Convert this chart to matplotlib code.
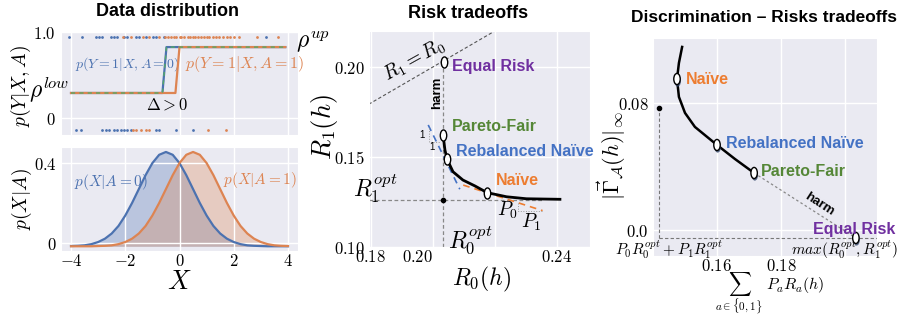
import numpy as np
import matplotlib
matplotlib.use('Agg')
import matplotlib.pyplot as plt
from matplotlib.path import Path
import matplotlib.patheffects as pe

plt.rcParams['mathtext.fontset'] = 'cm'
plt.rcParams['font.family'] = ['DejaVu Sans']
plt.rcParams['axes.facecolor'] = '#EAEAF2'
plt.rcParams['axes.edgecolor'] = 'white'
plt.rcParams['grid.color'] = 'white'
plt.rcParams['axes.grid'] = True
plt.rcParams['grid.linewidth'] = 1.0

# ---------------- data ----------------
# panel 1 top: labels observed at y=1 (top row) and y=0 (bottom row)
top_blue_x = [-4.08, -3.58, -3.09, -2.97, -2.84, -2.53, -2.41, -2.29, -2.04, -1.92,
              -1.61, -1.48, -1.24, -0.99, -0.87, -0.56, 3.2]
top_orange_x = [-2.10, -1.79, -1.36, -1.11, -0.74, -0.52, -0.41, -0.33, -0.20, -0.12,
                0.00, 0.07, 0.18, 0.30, 0.38, 0.50, 0.58, 0.69, 0.81, 0.90, 1.02,
                1.10, 1.22, 1.35, 1.44, 1.60, 1.74, 1.85, 2.02, 2.20, 2.84, 3.64]
bot_blue_x = [-3.83, -3.65, -2.84, -2.72, -2.60, -2.41, -2.29, -2.16, -2.04, -1.92,
              -1.79, -0.87, -0.74, -0.13, 0.49]
bot_orange_x = [-1.73, -1.61, -1.42, -1.24, -1.11, 1.05, 1.73]
rho_low = 0.398
rho_up = 0.892
step0_x = [-4.0, -0.63, -0.48, 3.9]
step1_x = [-4.0, -0.15, 0.0, 3.9]
step_y = [rho_low, rho_low, rho_up, rho_up]

# panel 1 bottom: densities p(X|A)
dens_x = [-4.0, -3.75, -3.5, -3.25, -3.0, -2.75, -2.5, -2.25, -2.0, -1.75, -1.5, -1.25,
          -1.0, -0.75, -0.5, -0.25, 0.0, 0.25, 0.5, 0.75, 1.0, 1.25, 1.5, 1.75, 2.0,
          2.25, 2.5, 2.75, 3.0, 3.25, 3.5, 3.75, 4.0]
dens_a0 = [0.001, 0.002, 0.004, 0.009, 0.018, 0.032, 0.054, 0.086, 0.130, 0.183,
           0.242, 0.301, 0.352, 0.387, 0.399, 0.387, 0.352, 0.301, 0.242, 0.183,
           0.130, 0.086, 0.054, 0.032, 0.018, 0.009, 0.004, 0.002, 0.001, 0.000,
           0.000, 0.000, 0.000]
dens_a1 = [0.000, 0.000, 0.000, 0.000, 0.001, 0.002, 0.004, 0.009, 0.018, 0.032,
           0.054, 0.086, 0.130, 0.183, 0.242, 0.301, 0.352, 0.387, 0.399, 0.387,
           0.352, 0.301, 0.242, 0.183, 0.130, 0.086, 0.054, 0.032, 0.018, 0.009,
           0.004, 0.002, 0.001]

# panel 2: risk frontier (R0, R1)
front_r0 = [0.2033, 0.2039, 0.2046, 0.2065, 0.2097, 0.2136, 0.2175, 0.2238, 0.2302, 0.2410]
front_r1 = [0.1622, 0.1539, 0.1487, 0.1418, 0.1372, 0.1339, 0.1302, 0.1279, 0.1268, 0.1265]
r0_opt = 0.2032
r1_opt = 0.1262
pts2_names = ['Equal Risk', 'Pareto-Fair', 'Rebalanced Naïve', 'Naïve']
pts2_r0 = [0.2035, 0.2033, 0.2046, 0.2175]
pts2_r1 = [0.2028, 0.1622, 0.1487, 0.1302]
tan_blue_r0 = [0.1985, 0.2087]
tan_blue_r1 = [0.1678, 0.1321]
tan_orange_r0 = [0.2098, 0.2354]
tan_orange_r1 = [0.1344, 0.1202]

# panel 3: discrimination vs total risk
disc_risk = [0.1491, 0.1481, 0.1475, 0.1481, 0.1500, 0.1531, 0.1569, 0.1600, 0.1656, 0.1716]
disc_gap = [0.1132, 0.1037, 0.0942, 0.0836, 0.0741, 0.0658, 0.0599, 0.0551, 0.0468, 0.0385]
pts3_names = ['Naïve', 'Rebalanced Naïve', 'Pareto-Fair', 'Equal Risk']
pts3_risk = [0.1475, 0.1600, 0.1716, 0.2034]
pts3_gap = [0.0942, 0.0551, 0.0385, 0.0]
opt_risk = 0.1419
opt_gap = 0.077

# ---------------- style ----------------
C_BLUE = '#4C72B0'
C_ORANGE = '#DD8452'
C_GREEN = '#55A868'
L_PURPLE = '#7030A0'
L_GREEN = '#558737'
L_BLUE = '#4472C4'
L_ORANGE = '#ED7D31'
label_colors = {'Equal Risk': L_PURPLE, 'Pareto-Fair': L_GREEN,
                'Rebalanced Naïve': L_BLUE, 'Naïve': L_ORANGE}
SANS = 'Liberation Sans'

circ = Path.unit_circle()
oval = Path(circ.vertices * np.array([0.58, 1.0]), circ.codes)

W, H = 902, 316
fig = plt.figure(figsize=(W / 100, H / 100), dpi=100)

def box(l, t, r, b):
    return [l / W, 1 - b / H, (r - l) / W, (b - t) / H]

def mt(v):
    return [f'${s}$' for s in v]

# titles
fig.text(168 / W, 1 - 12 / H, 'Data distribution', fontsize=13, fontweight='bold',
         family=SANS, ha='center', va='center')
fig.text(468 / W, 1 - 13 / H, 'Risk tradeoffs', fontsize=13, fontweight='bold',
         family=SANS, ha='center', va='center')
fig.text(764 / W, 1 - 18 / H, 'Discrimination – Risks tradeoffs', fontsize=12.5,
         fontweight='bold', family=SANS, ha='center', va='center')

# ---------- panel 1 top ----------
ax1 = fig.add_axes(box(61, 31, 298, 135))
ax1.set_xlim(-4.37, 4.37)
ax1.set_ylim(-0.054, 1.065)
ax1.scatter(top_blue_x, [1] * len(top_blue_x), s=4, color=C_BLUE, zorder=3, linewidths=0)
ax1.scatter(top_orange_x, [1] * len(top_orange_x), s=4, color=C_ORANGE, zorder=3, linewidths=0)
ax1.scatter(bot_blue_x, [0] * len(bot_blue_x), s=4, color=C_BLUE, zorder=3, linewidths=0)
ax1.scatter(bot_orange_x, [0] * len(bot_orange_x), s=4, color=C_ORANGE, zorder=3, linewidths=0)
ax1.plot(step0_x, step_y, color=C_BLUE, lw=1.6, zorder=4)
ax1.plot(step1_x, step_y, color=C_ORANGE, lw=1.6, zorder=5)
ax1.plot(step0_x, step_y, color=C_GREEN, lw=1.0, ls=(0, (3, 3)), zorder=6)
ax1.set_xticks([-4, -2, 0, 2, 4])
ax1.set_xticklabels([])
ax1.set_yticks([0.129, 1.054])
ax1.set_yticklabels(['$0$', '$1.0$'], fontsize=12)
ax1.tick_params(length=0, pad=4)
ax1.set_ylabel('$p(Y|X,A)$', fontsize=14)
ax1.yaxis.set_label_coords(-0.12, 0.47)
ax1.text(-3.85, 0.71, '$p(Y=1|X,A=0)$', color=C_BLUE, fontsize=10, va='center')
ax1.text(0.2, 0.71, '$p(Y=1|X,A=1)$', color=C_ORANGE, fontsize=11.5, va='center')
ax1.text(-0.44, 0.27, r'$\Delta>0$', fontsize=12, ha='center', va='center')
fig.text(69 / W, 1 - 90 / H, r'$\rho^{low}$', fontsize=17, ha='right', va='center')
fig.text(296 / W, 1 - 42 / H, r'$\rho^{up}$', fontsize=17, ha='left', va='center')

# ---------- panel 1 bottom ----------
ax2 = fig.add_axes(box(61, 147, 298, 251))
ax2.set_xlim(-4.37, 4.37)
ax2.set_ylim(-0.02, 0.42)
ax2.plot(dens_x, dens_a0, color=C_BLUE, lw=1.6)
ax2.fill_between(dens_x, dens_a0, color=C_BLUE, alpha=0.3, lw=0)
ax2.plot(dens_x, dens_a1, color=C_ORANGE, lw=1.6)
ax2.fill_between(dens_x, dens_a1, color=C_ORANGE, alpha=0.3, lw=0)
ax2.set_xticks([-4, -2, 0, 2, 4])
ax2.set_xticklabels(mt(['-4', '-2', '0', '2', '4']), fontsize=12)
ax2.set_yticks([0.013, 0.353])
ax2.set_yticklabels(['$0$', '$0.4$'], fontsize=12)
ax2.tick_params(axis='y', length=0, pad=3)
ax2.tick_params(axis='x', length=0, pad=1)
ax2.set_ylabel('$p(X|A)$', fontsize=14)
ax2.yaxis.set_label_coords(-0.112, 0.5)
ax2.set_xlabel('$X$', fontsize=19)
ax2.xaxis.set_label_coords(0.5, -0.17)
ax2.text(-3.9, 0.27, '$p(X|A=0)$', color=C_BLUE, fontsize=11, va='center')
ax2.text(1.6, 0.28, '$p(X|A=1)$', color=C_ORANGE, fontsize=11, va='center')

# ---------- panel 2 ----------
ax3 = fig.add_axes(box(369, 31, 590, 247))
ax3.set_xlim(0.1794, 0.2507)
ax3.set_ylim(0.10, 0.22)
ax3.plot([0.17, 0.23], [0.17, 0.23], color='#555555', lw=0.8, ls=(0, (3, 2)), zorder=2)
ax3.plot([r0_opt, r0_opt], [0.10, pts2_r1[0]], color='#888888', lw=0.9, ls=(0, (3, 2)), zorder=2)
ax3.plot([0.1794, 0.236], [r1_opt, r1_opt], color='#888888', lw=0.9, ls=(0, (3, 2)), zorder=2)
ax3.plot(tan_blue_r0, tan_blue_r1, color=L_BLUE, lw=1.2, ls=(0, (4, 3)), zorder=3)
ax3.plot(tan_orange_r0, tan_orange_r1, color=L_ORANGE, lw=1.2, ls=(0, (4, 3)), zorder=3)
ax3.plot(front_r0, front_r1, color='black', lw=2.0, zorder=4)
ax3.plot([r0_opt], [r1_opt], 'o', color='black', ms=3, zorder=5)
# small slope triangles
ax3.plot([0.1987, 0.1987, 0.2023], [0.1661, 0.1583, 0.1583], color='#999999', lw=0.7, ls=':', zorder=3)
ax3.text(0.1975, 0.1622, '1', fontsize=7, ha='right', va='center', family=SANS)
ax3.text(0.1998, 0.1556, '1', fontsize=7, ha='center', va='center', family=SANS)
ax3.plot([0.2274, 0.2274, 0.2355], [0.1244, 0.1200, 0.1200], color='#999999', lw=0.7, ls=':', zorder=3)
ax3.text(0.2242, 0.1206, '$P_0$', fontsize=14, ha='center', va='center')
ax3.text(0.2316, 0.1139, '$P_1$', fontsize=14, ha='center', va='center')
ax3.plot(pts2_r0, pts2_r1, ls='none', marker=oval, ms=8, mfc='white', mec='black', mew=1.0, zorder=6)
lab2_pos = {'Equal Risk': (0.2061, 0.2000), 'Pareto-Fair': (0.2061, 0.1667),
            'Rebalanced Naïve': (0.2074, 0.1528), 'Naïve': (0.2203, 0.1367)}
for n in pts2_names:
    x, y = lab2_pos[n]
    ax3.text(x, y, n, color=label_colors[n], fontsize=11.5, fontweight='bold', family=SANS,
             ha='left', va='center', zorder=7)
ax3.text(0.2013, 0.1856, 'harm', rotation=90, fontsize=9.5, fontweight='bold', family=SANS,
         ha='center', va='center')
ax3.text(0.1942, 0.2036, '$R_1 = R_0$', rotation=29, fontsize=14, ha='center', va='center',
         rotation_mode='anchor')
ax3.text(0.03, 0.273, '$R_1^{opt}$', transform=ax3.transAxes, fontsize=17, ha='center', va='center')
ax3.text(0.205, 0.104, '$R_0^{opt}$', fontsize=17, ha='left', va='center')
ax3.set_xticks([0.18, 0.20, 0.22, 0.24])
ax3.set_xticklabels(['$0.18$', '$0.20$', '', '$0.24$'], fontsize=12)
ax3.get_xticklabels()[1].set_horizontalalignment('right')
ax3.set_yticks([0.10, 0.15, 0.20])
ax3.set_yticklabels(['$0.10$', '$0.15$', '$0.20$'], fontsize=12)
ax3.tick_params(axis='y', length=0, pad=3)
ax3.tick_params(axis='x', length=0, pad=1)
ax3.set_ylabel('$R_1(h)$', fontsize=19)
ax3.yaxis.set_label_coords(-0.13, 0.555)
ax3.set_xlabel('$R_0(h)$', fontsize=17)
ax3.xaxis.set_label_coords(0.51, -0.083)

# ---------- panel 3 ----------
ax4 = fig.add_axes(box(653, 38, 877, 256))
ax4.set_xlim(0.14, 0.21)
ax4.set_ylim(-0.0107, 0.1185)
ax4.plot([opt_risk, opt_risk], [0, opt_gap], color='#777777', lw=0.8, ls=(0, (3, 2)), zorder=2)
ax4.plot([opt_risk, 0.21], [0, 0], color='#777777', lw=0.8, ls=(0, (3, 2)), zorder=2)
ax4.plot([opt_risk], [opt_gap], 'o', color='black', ms=3, zorder=5)
ax4.plot([disc_risk[-1], pts3_risk[-1]], [disc_gap[-1], pts3_gap[-1]], color='#888888',
         lw=0.9, ls=(0, (2, 2)), zorder=2)
ax4.plot(disc_risk, disc_gap, color='black', lw=1.8, zorder=4)
shadow = [pe.SimplePatchShadow(offset=(0.5, -1.5), shadow_rgbFace='#34476b', alpha=0.8), pe.Normal()]
ax4.plot(pts3_risk, pts3_gap, ls='none', marker=oval, ms=8, mfc='white', mec='black', mew=1.0,
         zorder=6, clip_on=False, path_effects=shadow)
lab3_pos = {'Naïve': (0.1503, 0.0942), 'Rebalanced Naïve': (0.1628, 0.0557),
            'Pareto-Fair': (0.1738, 0.0391), 'Equal Risk': (0.1900, 0.0053)}
for n in pts3_names:
    x, y = lab3_pos[n]
    ax4.text(x, y, n, color=label_colors[n], fontsize=11.5, fontweight='bold', family=SANS,
             ha='left', va='center', zorder=7)
ax4.text(0.1920, 0.0200, 'harm', rotation=-33, fontsize=9.5, fontweight='bold', family=SANS,
         ha='center', va='center', rotation_mode='anchor')
ax4.set_xticks([0.16, 0.18, 0.20])
ax4.set_xticklabels(['$0.16$', '$0.18$', ''], fontsize=12)
ax4.set_yticks([0.005, 0.08])
ax4.set_yticklabels(['$0.0$', '$0.08$'], fontsize=12)
ax4.tick_params(axis='y', length=0, pad=3)
ax4.tick_params(axis='x', length=0, pad=1)
ax4.text(-0.17, 0.030, r'$P_0R_0^{opt}+P_1R_1^{opt}$', transform=ax4.transAxes, fontsize=11,
         ha='left', va='center')
ax4.text(1.094, 0.030, r'$max(R_0^{opt},R_1^{opt})$', transform=ax4.transAxes, fontsize=11,
         ha='right', va='center')
ax4.set_ylabel(r'$|\vec{\Gamma}_{\mathcal{A}}(h)|_\infty$', fontsize=16)
ax4.yaxis.set_label_coords(-0.11, 0.46)
ax4.set_xlabel(r'$\sum_{a\in\{0,1\}}\ P_aR_a(h)$', fontsize=11.5)
ax4.xaxis.set_label_coords(0.52, -0.068)

fig.savefig('out.png', dpi=100)
